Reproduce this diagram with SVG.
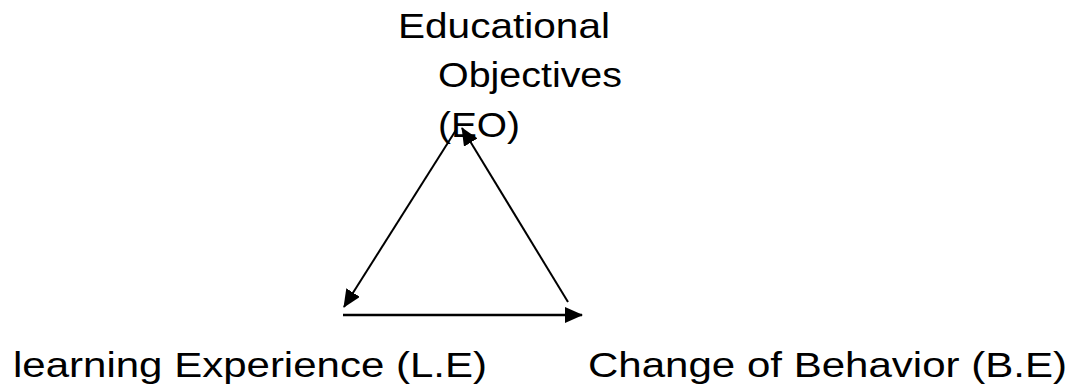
<svg xmlns="http://www.w3.org/2000/svg" width="1077" height="392" viewBox="0 0 1077 392">
  <style>
    .lbl { font-family: "Liberation Sans", Arial, sans-serif; font-size: 35px; fill: #000; }
    .edge { stroke: #000; fill: none; stroke-width: 2; }
    .edge-h { stroke: #000; fill: none; stroke-width: 2.6; }
  </style>
  <defs>
    <marker id="arrow" markerUnits="userSpaceOnUse" markerWidth="18" markerHeight="16" viewBox="0 0 18 16" refX="17" refY="8" orient="auto">
      <path d="M0,0 L18,8 L0,16 Z" fill="#000"/>
    </marker>
  </defs>
  <rect width="1077" height="392" fill="#fff"/>
  <g id="node-eo">
    <text class="lbl" x="398" y="38" textLength="212" lengthAdjust="spacingAndGlyphs">Educational</text>
    <text class="lbl" x="438" y="87" textLength="184" lengthAdjust="spacingAndGlyphs">Objectives</text>
    <text class="lbl" x="438" y="137" textLength="82" lengthAdjust="spacingAndGlyphs">(EO)</text>
  </g>
  <g id="node-le">
    <text class="lbl" x="13" y="377" textLength="474" lengthAdjust="spacingAndGlyphs">learning Experience (L.E)</text>
  </g>
  <g id="node-be">
    <text class="lbl" x="588" y="377" textLength="479" lengthAdjust="spacingAndGlyphs">Change of Behavior (B.E)</text>
  </g>
  <g id="connectors">
    <line class="edge" x1="456" y1="130" x2="344" y2="307" marker-end="url(#arrow)"/>
    <line class="edge" x1="568" y1="302" x2="462" y2="128" marker-end="url(#arrow)"/>
    <line class="edge-h" x1="343" y1="315" x2="582" y2="315" marker-end="url(#arrow)"/>
  </g>
</svg>
